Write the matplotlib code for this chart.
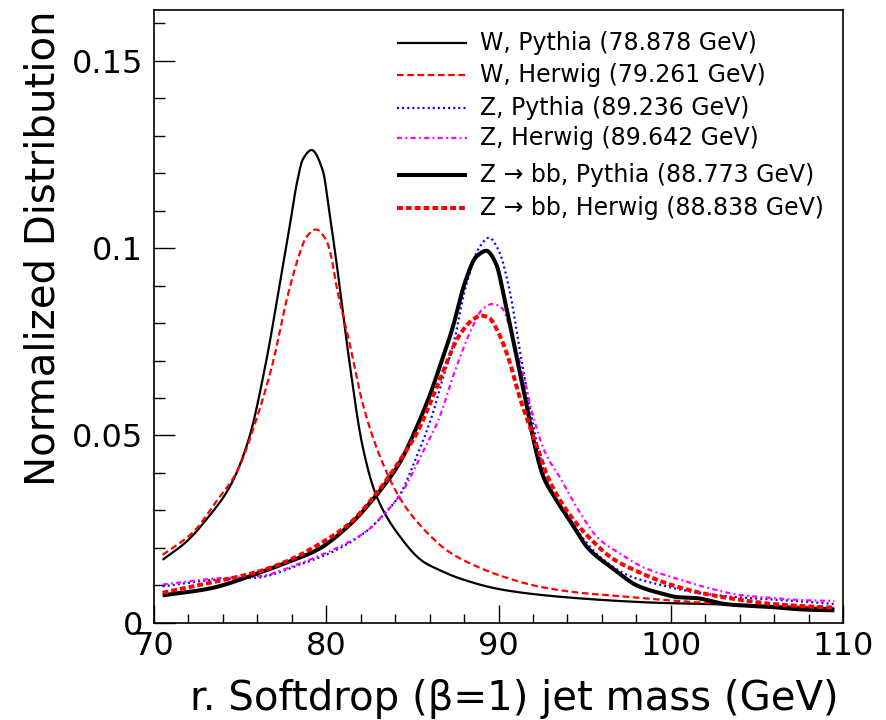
import numpy as np
import matplotlib
matplotlib.use("Agg")
import matplotlib.pyplot as plt
from matplotlib.ticker import MultipleLocator, FuncFormatter

plt.rcParams['font.family'] = ['DejaVu Sans']

# groomed jet mass spectra, read at the curve points (GeV, normalized)
m_w_py = [70.5, 71.9, 73.1, 74.4, 75.5, 76.5, 77.5, 77.9, 78.3, 78.65, 79.15, 79.8, 80.2, 80.6,
          81.35, 82.1, 82.9, 84.2, 85.6, 86.6, 87.7, 90.0, 92.3, 94.7, 97.0, 99.3, 102.0, 105.8,
          109.5]
v_w_py = [0.0168, 0.0217, 0.0279, 0.0363, 0.049, 0.0695, 0.096, 0.1065, 0.1175, 0.1238, 0.1262,
          0.1207, 0.109, 0.096, 0.0695, 0.0473, 0.034, 0.0235, 0.0164, 0.014, 0.0119, 0.009,
          0.0075, 0.0065, 0.0058, 0.0053, 0.005, 0.0044, 0.0038]

m_w_hw = [70.5, 72.3, 73.6, 74.8, 75.95, 76.9, 77.7, 78.45, 78.85, 79.4, 80.0, 80.3, 80.6, 81.35,
          82.1, 83.1, 84.4, 85.8, 87.1, 88.5, 90.4, 92.3, 94.7, 97.0, 99.3, 102.0, 105.8, 109.5]
v_w_hw = [0.0181, 0.0243, 0.0323, 0.0402, 0.0544, 0.0694, 0.0862, 0.0985, 0.103, 0.105, 0.1021,
          0.0975, 0.0897, 0.0747, 0.0588, 0.0446, 0.0323, 0.0243, 0.019, 0.0155, 0.0121, 0.0097,
          0.008, 0.0071, 0.0062, 0.0053, 0.0045, 0.004]

m_z_py = [70.5, 73.6, 76.1, 78.45, 80.4, 82.3, 83.3, 84.25, 85.2, 86.2, 86.75, 87.35, 88.1,
          88.9, 89.45, 90.0, 90.6, 91.2, 91.8, 92.35, 92.9, 93.9, 95.05, 96.2, 97.75, 99.3,
          100.1, 102.0, 103.9, 105.9, 107.8, 109.5]
v_z_py = [0.0097, 0.0115, 0.0121, 0.0155, 0.019, 0.0243, 0.0287, 0.034, 0.0438, 0.0561, 0.065,
          0.0738, 0.0897, 0.1003, 0.1028, 0.0995, 0.0897, 0.0738, 0.0579, 0.0455, 0.0367, 0.0296,
          0.0217, 0.0164, 0.0122, 0.0102, 0.0093, 0.0077, 0.0068, 0.0062, 0.0056, 0.005]

m_z_hw = [70.5, 73.6, 76.1, 78.45, 80.4, 82.3, 83.3, 84.4, 85.6, 86.5, 87.5, 88.5, 89.05,
          89.65, 90.2, 90.8, 91.4, 91.95, 92.7, 93.6, 94.7, 95.8, 97.0, 98.5, 100.1, 102.0,
          103.9, 105.9, 107.8, 109.5]
v_z_hw = [0.0102, 0.0118, 0.0124, 0.0158, 0.0195, 0.0243, 0.0287, 0.0349, 0.0455, 0.054, 0.0676,
          0.0791, 0.0836, 0.0851, 0.084, 0.0765, 0.0668, 0.0561, 0.0455, 0.0385, 0.0296, 0.0225,
          0.0186, 0.0146, 0.0121, 0.0095, 0.0075, 0.0066, 0.006, 0.0058]

m_zbb_py = [70.5, 73.2, 76.1, 77.9, 79.5, 81.35, 82.9, 84.3, 85.2, 86.0, 86.6, 87.3, 88.1,
            88.7, 89.3, 89.85, 90.4, 91.0, 91.6, 92.15, 92.6, 93.3, 94.3, 95.2, 96.6, 98.1,
            99.3, 100.45, 101.4, 103.3, 105.8, 107.8, 109.5]
v_zbb_py = [0.0073, 0.0091, 0.0133, 0.0164, 0.0195, 0.0261, 0.034, 0.043, 0.0517, 0.0606, 0.0685,
            0.0782, 0.0915, 0.0977, 0.0993, 0.0959, 0.0853, 0.0721, 0.0588, 0.0464, 0.039, 0.0332,
            0.0261, 0.0199, 0.0146, 0.0098, 0.008, 0.0068, 0.0066, 0.0049, 0.0042, 0.0035, 0.0033]

m_zbb_hw = [70.5, 73.2, 76.1, 77.9, 79.6, 81.35, 82.9, 84.3, 85.3, 86.6, 87.7, 88.5, 89.0,
            89.45, 90.0, 90.6, 91.2, 91.8, 92.35, 92.9, 94.3, 95.4, 96.6, 98.1, 100.1, 102.0,
            103.9, 105.9, 107.8, 109.5]
v_zbb_hw = [0.008, 0.0106, 0.0137, 0.0168, 0.021, 0.0265, 0.0345, 0.0435, 0.051, 0.065, 0.0765,
            0.0809, 0.082, 0.0814, 0.0774, 0.0703, 0.0606, 0.0526, 0.0455, 0.0385, 0.0278, 0.0221,
            0.0172, 0.0136, 0.01, 0.0077, 0.0062, 0.005, 0.0044, 0.004]

labels = ["W, Pythia (78.878 GeV)", "W, Herwig (79.261 GeV)", "Z, Pythia (89.236 GeV)",
          "Z, Herwig (89.642 GeV)", "Z \u2192 bb, Pythia (88.773 GeV)",
          "Z \u2192 bb, Herwig (88.838 GeV)"]


def pchip(x, y, xs):
    # monotone cubic through the points, keeps the peaks where they are
    x = np.asarray(x, float); y = np.asarray(y, float)
    h = np.diff(x); d = np.diff(y) / h
    m = np.zeros_like(y)
    m[0], m[-1] = d[0], d[-1]
    for k in range(1, len(x) - 1):
        if d[k-1] * d[k] > 0:
            w1 = 2*h[k] + h[k-1]; w2 = h[k] + 2*h[k-1]
            m[k] = (w1 + w2) / (w1/d[k-1] + w2/d[k])
    i = np.clip(np.searchsorted(x, xs) - 1, 0, len(x) - 2)
    t = (xs - x[i]) / h[i]
    h00 = 2*t**3 - 3*t**2 + 1; h10 = t**3 - 2*t**2 + t
    h01 = -2*t**3 + 3*t**2; h11 = t**3 - t**2
    return h00*y[i] + h10*h[i]*m[i] + h01*y[i+1] + h11*h[i]*m[i+1]


series = [
    (m_w_py, v_w_py, dict(color="black", lw=1.6, ls="-")),
    (m_w_hw, v_w_hw, dict(color="red", lw=1.6, ls=(0, (3.0, 1.6)))),
    (m_z_py, v_z_py, dict(color="blue", lw=1.6, ls=(0, (0.9, 1.4)))),
    (m_z_hw, v_z_hw, dict(color="magenta", lw=1.6, ls=(0, (2.3, 1.5, 0.8, 1.5)))),
    (m_zbb_py, v_zbb_py, dict(color="black", lw=2.9, ls="-")),
    (m_zbb_hw, v_zbb_hw, dict(color="red", lw=2.9, ls=(0, (1.45, 0.75)))),
]

W, H = 886, 720
x0, x1, y_bot, y_top = 154, 843, 622.7, 10
fig = plt.figure(figsize=(W/100, H/100), dpi=100)
ax = fig.add_axes([x0/W, (H - y_bot)/H, (x1 - x0)/W, (y_bot - y_top)/H])

for (mx, vy, st) in series:
    xs = np.linspace(mx[0], mx[-1], 1000)
    ax.plot(xs, pchip(mx, vy, xs), solid_capstyle="butt", **st)

ax.set_xlim(70, 110)
ax.set_ylim(0, 0.1636)
ax.xaxis.set_major_locator(MultipleLocator(10))
ax.xaxis.set_minor_locator(MultipleLocator(2))
ax.yaxis.set_major_locator(MultipleLocator(0.05))
ax.yaxis.set_minor_locator(MultipleLocator(0.01))
ax.yaxis.set_major_formatter(FuncFormatter(lambda v, p: "%g" % round(v, 4)))
ax.tick_params(which="both", direction="in", top=False, right=False, width=1.0, labelsize=23)
ax.tick_params(axis="x", which="major", length=13, pad=6)
ax.tick_params(axis="x", which="minor", length=6.3)
ax.tick_params(axis="y", which="major", length=15, pad=8)
ax.tick_params(axis="y", which="minor", length=8)
for s in ax.spines.values():
    s.set_linewidth(1.2)

ax.set_xlabel("r. Softdrop (\u03b2=1) jet mass (GeV)", fontsize=29, loc="right")
ax.xaxis.set_label_coords(0.993, -0.092)
ax.set_ylabel("Normalized Distribution", fontsize=29, loc="top")
ax.yaxis.set_label_coords(-0.132, 1.0)

# legend rows, drawn by hand so the last two entries sit a little lower
rows_px = [43, 75, 108, 138, 175, 208]
for (mx, vy, st), lab, ry in zip(series, labels, rows_px):
    yy = (y_bot - ry) / (y_bot - y_top)
    ax.plot([(397 - x0)/(x1 - x0), (467 - x0)/(x1 - x0)], [yy, yy], transform=ax.transAxes,
            clip_on=False, solid_capstyle="butt", **st)
    ax.text((480 - x0)/(x1 - x0), yy, lab, transform=ax.transAxes, fontsize=17,
            va="center", ha="left")

fig.savefig("out.png", dpi=100)
